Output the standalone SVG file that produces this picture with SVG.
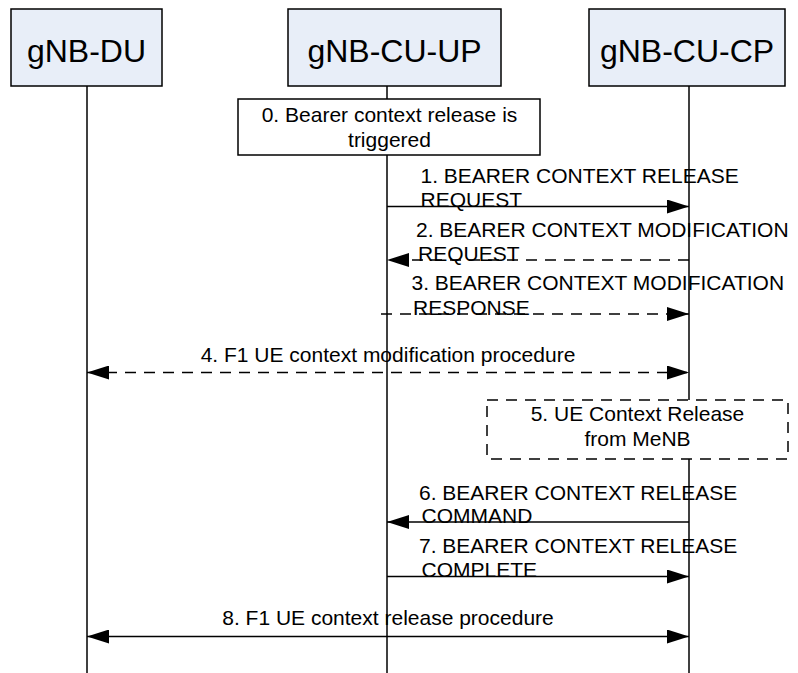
<svg xmlns="http://www.w3.org/2000/svg" width="798" height="673" viewBox="0 0 798 673">
<defs>
<marker id="ah" markerUnits="userSpaceOnUse" markerWidth="22" markerHeight="14" refX="22" refY="7" orient="auto-start-reverse" viewBox="0 0 22 14"><path d="M0,0 L22,7 L0,14 z" fill="#000"/></marker>
<style>
.hdr{fill:#E8EEF8;stroke:#000;stroke-width:1.5}
.box{fill:#fff;stroke:#000;stroke-width:1.5}
.ht{font-family:"Liberation Sans",Arial,sans-serif;font-size:32px;text-anchor:middle;fill:#000}
.t{font-family:"Liberation Sans",Arial,sans-serif;font-size:21px;fill:#000}
.m{text-anchor:middle}
.life{stroke:#000;stroke-width:1.5;fill:none}
.msg{stroke:#000;stroke-width:1.5;fill:none;marker-end:url(#ah)}
.both{marker-start:url(#ah)}
.dash{stroke-dasharray:11 8}
</style>
</defs>
<g id="lifelines">
<line class="life" x1="87" y1="86" x2="87" y2="673"/>
<line class="life" x1="387" y1="86" x2="387" y2="673"/>
<line class="life" x1="689" y1="86" x2="689" y2="673"/>
</g>
<g id="gnb-du">
<rect class="hdr" x="11" y="9" width="151" height="77"/>
<text class="ht" x="86.5" y="62">gNB-DU</text>
</g>
<g id="gnb-cu-up">
<rect class="hdr" x="288" y="9" width="213" height="77"/>
<text class="ht" x="394.5" y="62">gNB-CU-UP</text>
</g>
<g id="gnb-cu-cp">
<rect class="hdr" x="589" y="9" width="196" height="77"/>
<text class="ht" x="687" y="62">gNB-CU-CP</text>
</g>
<g id="step0">
<rect class="box" x="238" y="99" width="302" height="56"/>
<text class="t m" x="389.5" y="121.5">0. Bearer context release is</text>
<text class="t m" x="389.5" y="146.5">triggered</text>
</g>
<g id="step5">
<rect class="box dash" x="487" y="400" width="301" height="59"/>
<text class="t m" x="637.5" y="421">5. UE Context Release</text>
<text class="t m" x="637.5" y="446">from MeNB</text>
</g>
<g id="connectors">
<path class="msg" d="M387,206.5 H689"/>
<path class="msg dash" d="M689,260 H387"/>
<path class="msg dash" d="M381,314 H689"/>
<path class="msg both dash" d="M87,372.5 H689"/>
<path class="msg" d="M689,522 H387"/>
<path class="msg" d="M387,576.5 H689"/>
<path class="msg both" d="M87,636.5 H689"/>
</g>
<g id="labels">
<text class="t" x="420.5" y="183">1. BEARER CONTEXT RELEASE</text>
<text class="t" x="420.5" y="207">REQUEST</text>
<text class="t" x="416" y="236.5">2. BEARER CONTEXT MODIFICATION</text>
<text class="t" x="418" y="260.5">REQUEST</text>
<text class="t" x="411.5" y="290">3. BEARER CONTEXT MODIFICATION</text>
<text class="t" x="413" y="314.5">RESPONSE</text>
<text class="t m" x="388" y="361.5">4. F1 UE context modification procedure</text>
<text class="t" x="419" y="500">6. BEARER CONTEXT RELEASE</text>
<text class="t" x="421.5" y="522.5">COMMAND</text>
<text class="t" x="419" y="552.5">7. BEARER CONTEXT RELEASE</text>
<text class="t" x="421.5" y="577">COMPLETE</text>
<text class="t m" x="388" y="625">8. F1 UE context release procedure</text>
</g>
</svg>
